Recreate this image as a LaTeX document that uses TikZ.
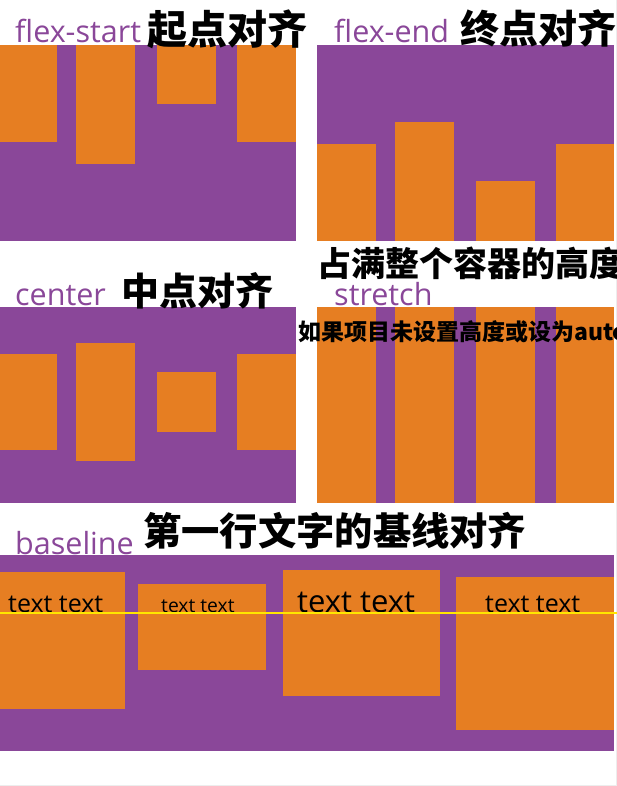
\documentclass[tikz,border=0pt]{standalone}
\usepackage{fontspec}
\setmainfont{Open Sans}
\newfontfamily\cjk{Noto Sans CJK SC}
\definecolor{pur}{HTML}{8A4799}
\definecolor{org}{HTML}{E67E22}
\definecolor{yel}{HTML}{FFE600}
\begin{document}
\begin{tikzpicture}[x=1pt,y=-1pt,
  box/.style={fill=pur,draw=none},
  item/.style={fill=org,draw=none},
  lab/.style={anchor=base west,inner sep=0pt,text=pur,font=\fontsize{30.5}{32}\selectfont},
  ttl/.style={anchor=base west,inner sep=0pt,text=black,font=\cjk\bfseries\fontsize{38}{40}\selectfont},
  txt/.style={anchor=base west,inner sep=0pt,text=black}]
\useasboundingbox (0,0) rectangle (617,786);
\fill[white] (0,0) rectangle (617,786);
\draw[black!7,line width=1pt] (616.5,0) -- (616.5,785.5) -- (0,785.5);
% flex-start
\fill[box] (0,45) rectangle (296,241);
\fill[item] (0,45) rectangle (57,142);
\fill[item] (76,45) rectangle (135,164);
\fill[item] (157,45) rectangle (216,104);
\fill[item] (237,45) rectangle (296,142);
% flex-end
\fill[box] (317,45) rectangle (614,241);
\fill[item] (317,144) rectangle (376,241);
\fill[item] (395,122) rectangle (454,241);
\fill[item] (476,181) rectangle (535,241);
\fill[item] (556,144) rectangle (614,241);
% center
\fill[box] (0,307) rectangle (296,503);
\fill[item] (0,354) rectangle (57,450);
\fill[item] (76,343) rectangle (135,461);
\fill[item] (157,372) rectangle (216,432);
\fill[item] (237,354) rectangle (296,450);
% stretch
\fill[box] (317,307) rectangle (614,503);
\fill[item] (317,307) rectangle (376,503);
\fill[item] (395,307) rectangle (454,503);
\fill[item] (476,307) rectangle (535,503);
\fill[item] (556,307) rectangle (614,503);
% baseline
\fill[box] (0,555) rectangle (614,751);
\fill[item] (0,572) rectangle (125,709);
\fill[item] (138,584) rectangle (266,670);
\fill[item] (283,570) rectangle (440,696);
\fill[item] (456,577) rectangle (614,730);
% labels
\node[lab] (l1) at (15,43) {flex-start};
\node[ttl,font=\cjk\bfseries\fontsize{40}{42}\selectfont] (c1) at (147,45) {起点对齐};
\node[lab] (l2) at (334,43) {flex-end};
\node[ttl,font=\cjk\bfseries\fontsize{39}{42}\selectfont] (c2) at (460,44) {终点对齐};
\node[lab] (l3) at (15,305) {center};
\node[ttl,font=\cjk\bfseries\fontsize{38}{40}\selectfont] (c3) at (121,305) {中点对齐};
\node[ttl,font=\cjk\bfseries\fontsize{34}{36}\selectfont] (c4) at (317,276) {占满整个容器的高度};
\node[lab] (l4) at (334,305) {stretch};
\node[ttl,font=\cjk\bfseries\fontsize{23}{26}\selectfont] (c5) at (298,340) {如果项目未设置高度或设为auto};
\node[lab] (l5) at (15,554) {baseline};
\node[ttl,font=\cjk\bfseries\fontsize{38.3}{40}\selectfont] (c6) at (143,545) {第一行文字的基线对齐};
% item texts
\node[txt,font=\fontsize{25}{26}\selectfont] (t1) at (8,612) {text text};
\node[txt,font=\fontsize{19.3}{21}\selectfont] (t2) at (161,612) {text text};
\node[txt,font=\fontsize{31}{33}\selectfont] (t3) at (297,612) {text text};
\node[txt,font=\fontsize{25}{26}\selectfont] (t4) at (485,612) {text text};
\coordinate (ya) at (0,612.5);
\coordinate (yb) at (617,612.5);
\draw[yel,line width=2pt] (ya) -- (yb);
\end{tikzpicture}
\end{document}
